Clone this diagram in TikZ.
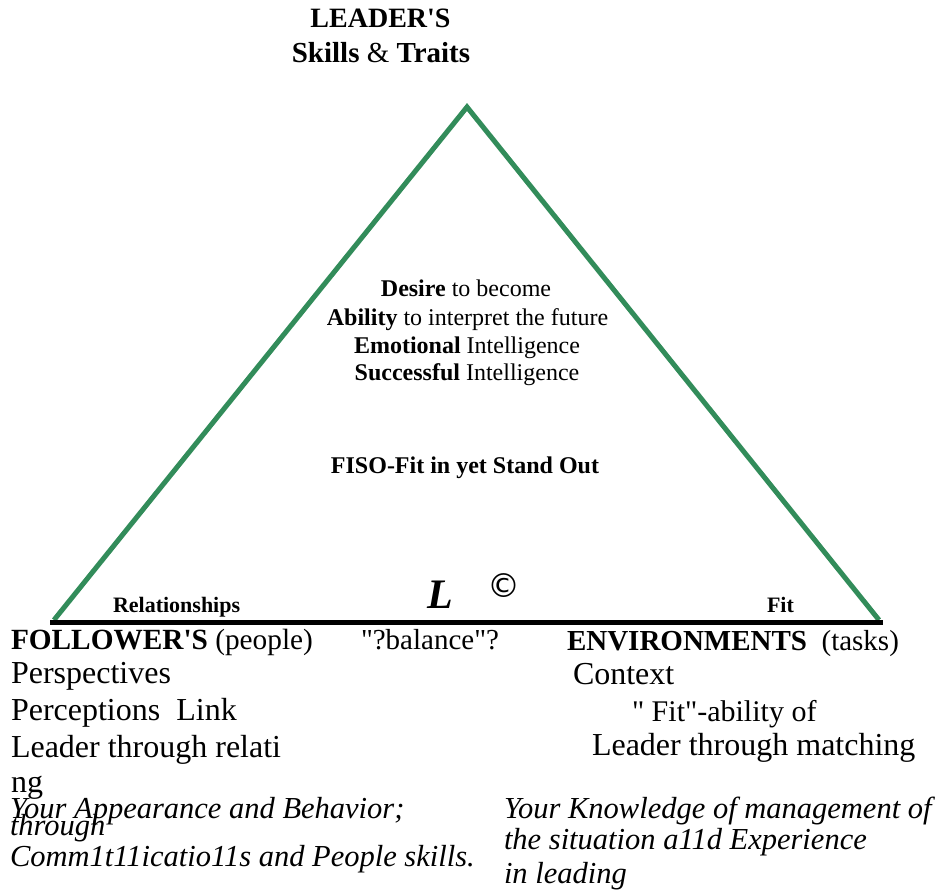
\documentclass[tikz,border=0pt]{standalone}
\usepackage{fontspec}
\setmainfont{Liberation Serif}
\newfontfamily\dejavu{DejaVu Sans}
\definecolor{tri}{RGB}{50,140,90}
\newcommand{\fs}[1]{\fontsize{#1}{#1}\selectfont}
\newcommand{\dq}{\textquotedbl}
\newcommand{\sq}{\textquotesingle}
\begin{document}
\begin{tikzpicture}[x=1pt,y=-1pt,
  txt/.style={inner sep=0pt,outer sep=0pt,anchor=base west},
  ctxt/.style={inner sep=0pt,outer sep=0pt,anchor=base},
  side/.style={tri,line width=5pt},
  baseline/.style={black,line width=5pt}]
\useasboundingbox (0,0) rectangle (942,893);
\coordinate (apex) at (467,107);
\coordinate (bl) at (54,620);
\coordinate (br) at (879,620);
\coordinate (lineL) at (50,622);
\coordinate (lineR) at (883,622);
\draw[side,line join=miter] (bl) -- (apex) -- (br);
\draw[baseline] (lineL) -- (lineR);
% top
\node[ctxt] (leader) at (380.5,28) {\fs{28}\bfseries LEADER\sq S};
\node[ctxt] (skills) at (381,63) {\fs{29}\textbf{Skills} \& \textbf{Traits}};
% middle
\node[ctxt] (desire) at (466,297) {\fs{24}\textbf{Desire} to become};
\node[ctxt] (ability) at (467.5,325) {\fs{24}\textbf{Ability} to interpret the future};
\node[ctxt] (emo) at (467,353) {\fs{24}\textbf{Emotional} Intelligence};
\node[ctxt] (succ) at (467,380) {\fs{24}\textbf{Successful} Intelligence};
\node[ctxt] (fiso) at (465,473) {\fs{24}\bfseries FISO-Fit in yet Stand Out};
% base labels
\node[txt] (rel) at (113,612) {\fs{22}\bfseries Relationships};
\node[txt] (L) at (427,608) {\fs{42}\bfseries\itshape L};
\node[inner sep=0pt] (copy) at (504,586) {\fs{33}\dejavu ©};
\node[txt] (fit) at (767,612) {\fs{22}\bfseries Fit};
% left column
\node[txt] (foll) at (11,649) {\fs{29.3}\textbf{FOLLOWER\sq S} (people)};
\node[txt] (bal) at (361,649) {\fs{29}\dq?balance\dq?};
\node[txt] (persp) at (11,683) {\fs{32}Perspectives};
\node[txt] (perc) at (11,720) {\fs{32}Perceptions\ \ Link};
\node[txt] (lead1) at (11,757) {\fs{32}Leader through relati};
\node[txt] (ng) at (11,792) {\fs{32}ng};
\node[txt] (app) at (10,818) {\fs{30.5}\itshape Your Appearance and Behavior;};
\node[txt] (thr) at (10,835) {\fs{30.5}\itshape through};
\node[txt] (comm) at (10,866) {\fs{30.5}\itshape Comm1t11icatio11s and People skills.};
% right column
\node[txt] (env) at (567,650) {\fs{29}\textbf{ENVIRONMENTS}\ \ (tasks)};
\node[txt] (ctx) at (573,684) {\fs{32}Context};
\node[txt] (fitab) at (632,721) {\fs{30}\dq{} Fit\dq-ability of};
\node[txt] (lead2) at (592,755) {\fs{32}Leader through matching};
\node[txt] (know) at (504,818) {\fs{30.5}\itshape Your Knowledge of management of};
\node[txt] (sit) at (504,849) {\fs{30.5}\itshape the situation a11d Experience};
\node[txt] (inl) at (504,883) {\fs{30.5}\itshape in leading};
\end{tikzpicture}
\end{document}
